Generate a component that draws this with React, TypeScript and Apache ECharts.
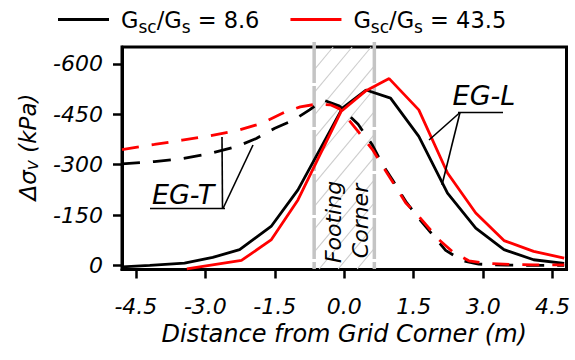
import React, { useEffect, useRef } from "react";
import * as echarts from "echarts";

// ---- data ----
const xTicks = [-4.5, -3.0, -1.5, 0.0, 1.5, 3.0, 4.5];
const yTicks = [-600, -450, -300, -150, 0];

const ratioLabels = ["8.6", "43.5"];

// EG-L, Gsc/Gs = 8.6 (black solid)
const egL86X = [-4.8, -4.2, -3.45, -2.84, -2.26, -1.58, -1.0, -0.04, 0.47, 1.0, 1.61, 2.23, 2.84, 3.45, 4.09, 4.75];
const egL86Y = [4, 0, -7, -24, -47, -116, -225, -468, -522, -498, -384, -215, -111, -47, -17, -6];

// EG-L, Gsc/Gs = 43.5 (red solid)
const egL435X = [-3.4, -2.22, -1.58, -1.0, -0.07, 0.47, 0.97, 1.61, 2.23, 2.84, 3.45, 4.09, 4.75];
const egL435Y = [10, -15, -76, -195, -458, -520, -556, -463, -275, -156, -74, -42, -22];

// EG-T, Gsc/Gs = 8.6 (black dashed)
const egT86X = [-4.8, -4.1, -3.5, -2.9, -2.3, -1.9, -1.5, -1.1, -0.75, -0.45, -0.1, 0.3, 0.6, 0.83, 1.04, 1.33, 1.61, 1.94, 2.19, 2.55, 2.9, 3.5, 4.1, 4.75];
const egT86Y = [-302, -309, -318, -333, -355, -378, -408, -432, -463, -492, -474, -420, -360, -300, -255, -190, -140, -86, -45, -14, -4, -1, 0, 0];

// EG-T, Gsc/Gs = 43.5 (red dashed)
const egT435X = [-4.8, -4.1, -3.5, -2.9, -2.3, -1.8, -1.3, -0.95, -0.6, -0.3, -0.1, 0.07, 0.32, 0.61, 0.83, 1.04, 1.33, 1.61, 2.05, 2.33, 2.69, 3.05, 3.6, 4.1, 4.75];
const egT435Y = [-345, -360, -373, -386, -402, -422, -455, -472, -480, -478, -466, -438, -395, -345, -295, -250, -186, -146, -76, -42, -14, -6, -3, -2, -2];

// footing corner extent (m)
const footingX = [-0.65, 0.65];

const FONT = "DejaVu Sans";
const zip = (xs: number[], ys: number[]) => xs.map((x, i) => [x, ys[i]]);
const seriesName = (r: string) => `Gsc/Gs = ${r}`;

export default function App() {
  const ref = useRef<HTMLDivElement>(null);

  useEffect(() => {
    document.body.style.margin = "0";
    const chart = echarts.init(ref.current!, null, { renderer: "svg" });

    const n86 = seriesName(ratioLabels[0]);
    const n435 = seriesName(ratioLabels[1]);

    chart.setOption({
      animation: false,
      grid: {
        left: 122,
        top: 47,
        right: 8.5,
        bottom: 90.5,
        show: true,
        borderColor: "#000",
        borderWidth: 3,
        outerBoundsMode: "none",
      },
      legend: {
        left: 58,
        top: 8.5,
        padding: 0,
        icon: "rect",
        itemWidth: 51,
        itemHeight: 3,
        itemGap: 31,
        data: [n86, n435],
        formatter: (name: string) => {
          const v = name === n86 ? ratioLabels[0] : ratioLabels[1];
          return `{sp| }{m|G}{s|sc}{m|/G}{s|s}{m| = ${v}}`;
        },
        textStyle: {
          color: "#000",
          fontFamily: FONT,
          fontSize: 22,
          rich: {
            sp: { fontSize: 22, lineHeight: 22, verticalAlign: "top", width: 7, fontFamily: FONT, color: "#000" },
            m: { fontSize: 22.5, lineHeight: 22, verticalAlign: "top", fontFamily: FONT, color: "#000" },
            s: { fontSize: 17, lineHeight: 17, verticalAlign: "top", padding: [10, 0, 0, 0], fontFamily: FONT, color: "#000" },
          },
        },
      },
      xAxis: {
        type: "value",
        min: -4.8,
        max: 4.8,
        axisLine: { show: true, onZero: false, lineStyle: { color: "#000", width: 3 } },
        axisTick: { show: true, inside: false, length: 9, customValues: xTicks, lineStyle: { color: "#000", width: 2.5 } },
        axisLabel: {
          customValues: xTicks,
          formatter: (v: number) => v.toFixed(1),
          margin: 26,
          fontSize: 22,
          fontStyle: "italic",
          fontFamily: FONT,
          color: "#000",
        },
        splitLine: { show: false },
        name: "Distance from Grid Corner (m)",
        nameLocation: "middle",
        nameGap: 52,
        nameTextStyle: { fontSize: 24, fontStyle: "italic", fontFamily: FONT, color: "#000" },
      },
      yAxis: {
        type: "value",
        inverse: true,
        min: -650,
        max: 12,
        axisLine: { show: true, onZero: false, lineStyle: { color: "#000", width: 3 } },
        axisTick: { show: true, inside: false, length: 9, customValues: yTicks, lineStyle: { color: "#000", width: 2.5 } },
        axisLabel: {
          customValues: yTicks,
          formatter: (v: number) => String(v),
          margin: 19,
          fontSize: 22,
          fontStyle: "italic",
          fontFamily: FONT,
          color: "#000",
        },
        splitLine: { show: false },
      },
      series: [
        {
          name: n86,
          type: "line",
          symbol: "none",
          data: zip(egL86X, egL86Y),
          lineStyle: { color: "#000", width: 2.8 },
          itemStyle: { color: "#000" },
          z: 3,
        },
        {
          name: n435,
          type: "line",
          symbol: "none",
          data: zip(egL435X, egL435Y),
          lineStyle: { color: "#ff0000", width: 2.8 },
          itemStyle: { color: "#ff0000" },
          z: 4,
        },
        {
          name: n86,
          type: "line",
          symbol: "none",
          data: zip(egT86X, egT86Y),
          lineStyle: { color: "#000", width: 2.8, type: [18, 13] },
          itemStyle: { color: "#000" },
          z: 5,
        },
        {
          name: n435,
          type: "line",
          symbol: "none",
          data: zip(egT435X, egT435Y),
          lineStyle: { color: "#ff0000", width: 2.8, type: [17, 13] },
          itemStyle: { color: "#ff0000" },
          z: 6,
        },
      ],
    });

    // decorations: footing corner hatch, annotations, y-axis title
    const L = chart.convertToPixel({ xAxisIndex: 0 }, footingX[0]) as number;
    const R = chart.convertToPixel({ xAxisIndex: 0 }, footingX[1]) as number;
    const T = 47;
    const B = 269;
    const H = B - T;
    const k = 1.2; // slope of hatch
    const spacing = 19;
    const hatch: any[] = [];
    for (let c = L - H / k; c < R; c += spacing) {
      const t1 = Math.max(0, k * (L - c));
      const t2 = Math.min(H, k * (R - c));
      if (t2 <= t1) continue;
      hatch.push({
        type: "line",
        shape: { x1: c + t1 / k, y1: B - t1, x2: c + t2 / k, y2: B - t2 },
        style: { stroke: "#cdcdcd", lineWidth: 1.1 },
        z: 1,
        silent: true,
      });
    }
    const gray = { stroke: "#c4c4c4", lineWidth: 3.5, lineDash: [41, 3] };
    const black = { stroke: "#000", lineWidth: 1.6 };
    const ital = (size: number) => ({ fontSize: size, fontStyle: "italic", fontFamily: FONT, fill: "#000" });
    const centered = { align: "center", verticalAlign: "middle", textAlign: "center", textVerticalAlign: "middle" };

    chart.setOption({
      graphic: [
        ...hatch,
        { type: "line", shape: { x1: L, y1: 42, x2: L, y2: B }, style: gray, z: 1, silent: true },
        { type: "line", shape: { x1: R, y1: 42, x2: R, y2: B }, style: gray, z: 1, silent: true },
        {
          type: "text",
          x: 333,
          y: 222,
          rotation: Math.PI / 2,
          style: { text: "Footing", ...ital(22), ...centered },
          z: 20,
        },
        {
          type: "text",
          x: 360,
          y: 221,
          rotation: Math.PI / 2,
          style: { text: "Corner", ...ital(22), ...centered },
          z: 20,
        },
        // EG-L annotation
        {
          type: "text",
          x: 484,
          y: 95,
          style: { text: "EG-L", ...ital(27), ...centered },
          z: 20,
        },
        { type: "line", shape: { x1: 458, y1: 112.5, x2: 503, y2: 112.5 }, style: black, z: 20 },
        { type: "line", shape: { x1: 460, y1: 112.5, x2: 429, y2: 140 }, style: black, z: 20 },
        { type: "line", shape: { x1: 460, y1: 112.5, x2: 442, y2: 185 }, style: black, z: 20 },
        // EG-T annotation
        {
          type: "text",
          x: 183,
          y: 194,
          style: { text: "EG-T", ...ital(27), ...centered },
          z: 20,
        },
        { type: "line", shape: { x1: 150, y1: 208.5, x2: 225, y2: 208.5 }, style: black, z: 20 },
        { type: "line", shape: { x1: 222.5, y1: 208.5, x2: 222, y2: 137 }, style: black, z: 20 },
        { type: "line", shape: { x1: 223, y1: 208.5, x2: 253, y2: 145 }, style: black, z: 20 },
        // y-axis title
        {
          type: "text",
          x: 27.5,
          y: 147,
          rotation: Math.PI / 2,
          style: {
            text: "{a|Δσ}{b|v}{a| (kPa)}",
            ...centered,
            fill: "#000",
            rich: {
              a: { fontSize: 23, lineHeight: 23, verticalAlign: "top", fontStyle: "italic", fontFamily: FONT, fill: "#000", color: "#000" },
              b: { fontSize: 17, lineHeight: 17, verticalAlign: "top", padding: [7, 0, 0, 0], fontStyle: "italic", fontFamily: FONT, fill: "#000", color: "#000" },
            },
          },
          z: 20,
        },
      ],
    });

    return () => chart.dispose();
  }, []);

  return (
    <div
      ref={ref}
      style={{ position: "absolute", left: 0, top: 0, width: 575, height: 360 }}
    />
  );
}
